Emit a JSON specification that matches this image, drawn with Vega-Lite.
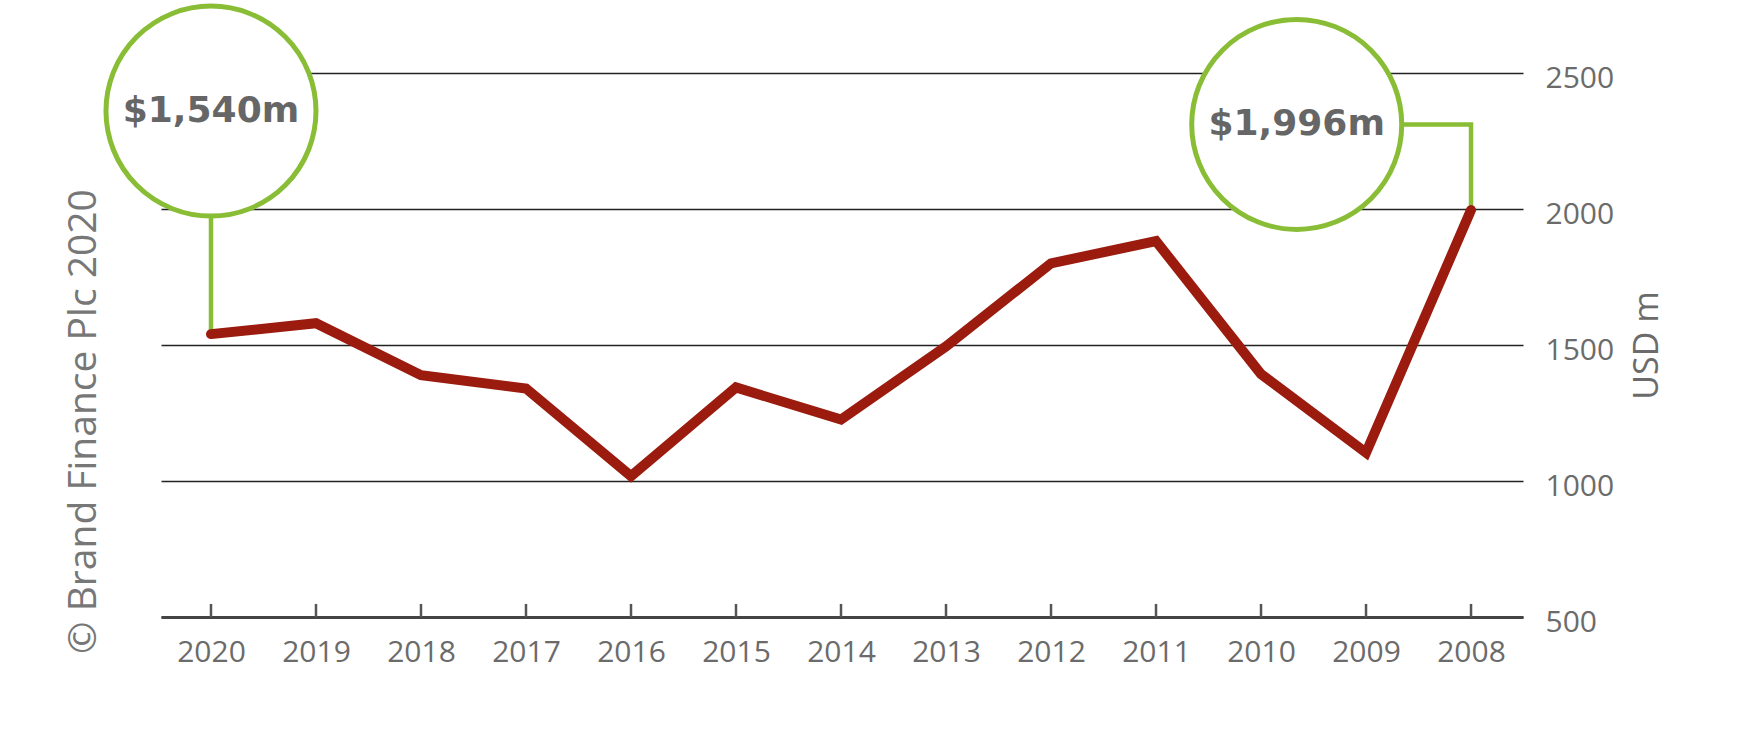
{
  "$schema": "https://vega.github.io/schema/vega-lite/v6.json",
  "width": 1362,
  "height": 544,
  "autosize": "none",
  "padding": {"left": 161, "top": 73, "right": 214, "bottom": 136},
  "background": "white",
  "datasets": {
    "brand": [
      {"year": 2008, "value": 1996},
      {"year": 2009, "value": 1104},
      {"year": 2010, "value": 1393},
      {"year": 2011, "value": 1882},
      {"year": 2012, "value": 1800},
      {"year": 2013, "value": 1495},
      {"year": 2014, "value": 1226},
      {"year": 2015, "value": 1344},
      {"year": 2016, "value": 1018},
      {"year": 2017, "value": 1340},
      {"year": 2018, "value": 1389},
      {"year": 2019, "value": 1580},
      {"year": 2020, "value": 1540}
    ],
    "callout": [
      {"label": "$1,540m", "year": 2020, "value": 2360},
      {"label": "$1,996m", "year": 2009.66, "value": 2311}
    ],
    "connector": [
      {"id": "a", "step": 1, "year": 2020, "value": 2360},
      {"id": "a", "step": 2, "year": 2020, "value": 1540},
      {"id": "b", "step": 1, "year": 2009.66, "value": 2311},
      {"id": "b", "step": 2, "year": 2008, "value": 2311},
      {"id": "b", "step": 3, "year": 2008, "value": 1996}
    ]
  },
  "config": {
    "view": {"stroke": null},
    "font": "Open Sans",
    "axis": {"labelFont": "Open Sans", "titleFont": "Open Sans", "labelColor": "#6b6b6b", "titleColor": "#6b6b6b", "titleFontWeight": "normal"}
  },
  "resolve": {"axis": {"y": "independent"}},
  "layer": [
    {
      "data": {"name": "connector"},
      "mark": {"type": "line", "color": "#8abd36", "strokeWidth": 4.5, "strokeJoin": "miter"},
      "encoding": {
        "x": {
          "field": "year",
          "type": "quantitative",
          "scale": {"domain": [2007.505, 2020.476], "reverse": true, "nice": false, "zero": false},
          "axis": {
            "title": null,
            "values": [2008, 2009, 2010, 2011, 2012, 2013, 2014, 2015, 2016, 2017, 2018, 2019, 2020],
            "format": "d",
            "grid": false,
            "domainColor": "#444444",
            "domainWidth": 3,
            "ticks": false,
            "labelFontSize": 30,
            "labelPadding": 20
          }
        },
        "y": {
          "field": "value",
          "type": "quantitative",
          "scale": {"domain": [500, 2500], "nice": false, "zero": false},
          "axis": {
            "orient": "right",
            "values": [500, 1000, 1500, 2000, 2500],
            "format": "d",
            "grid": true,
            "gridColor": "#222222",
            "gridWidth": 1.3,
            "gridOpacity": 1,
            "domain": false,
            "ticks": false,
            "labelFontSize": 30,
            "labelPadding": 22,
            "labelAlign": "left",
            "labelOffset": 5,
            "title": "USD m",
            "titleFontSize": 34,
            "titleAngle": 270,
            "titleAlign": "center",
            "titleBaseline": "middle",
            "titleX": 124,
            "titleY": 272
          }
        },
        "detail": {"field": "id"},
        "order": {"field": "step"}
      }
    },
    {
      "data": {"name": "brand"},
      "mark": {"type": "rule", "color": "#555555", "strokeWidth": 2.5},
      "encoding": {
        "x": {"field": "year", "type": "quantitative"},
        "y": {"datum": 500, "type": "quantitative", "axis": null},
        "y2": {"datum": 548}
      }
    },
    {
      "data": {"name": "callout"},
      "mark": {"type": "point", "shape": "circle", "filled": true, "fill": "white", "stroke": "#8abd36", "strokeWidth": 5, "size": 44100, "opacity": 1},
      "encoding": {
        "x": {"field": "year", "type": "quantitative"},
        "y": {"field": "value", "type": "quantitative", "axis": null}
      }
    },
    {
      "data": {"name": "callout"},
      "mark": {"type": "text", "font": "DejaVu Sans", "fontWeight": "bold", "fontSize": 36, "color": "#666666", "align": "center", "baseline": "middle"},
      "encoding": {
        "x": {"field": "year", "type": "quantitative"},
        "y": {"field": "value", "type": "quantitative", "axis": null},
        "text": {"field": "label"}
      }
    },
    {
      "data": {"name": "brand"},
      "mark": {"type": "line", "color": "#9b1b0f", "strokeWidth": 10, "strokeCap": "round", "strokeJoin": "miter"},
      "encoding": {
        "x": {"field": "year", "type": "quantitative"},
        "y": {
          "field": "value",
          "type": "quantitative",
          "axis": {
            "orient": "left",
            "labels": false,
            "ticks": false,
            "domain": false,
            "grid": false,
            "title": "© Brand Finance Plc 2020",
            "titleFontSize": 39,
            "titleColor": "#777777",
            "titleAngle": 270,
            "titleAlign": "center",
            "titleBaseline": "middle",
            "titleX": -78,
            "titleY": 348
          }
        }
      }
    }
  ]
}
